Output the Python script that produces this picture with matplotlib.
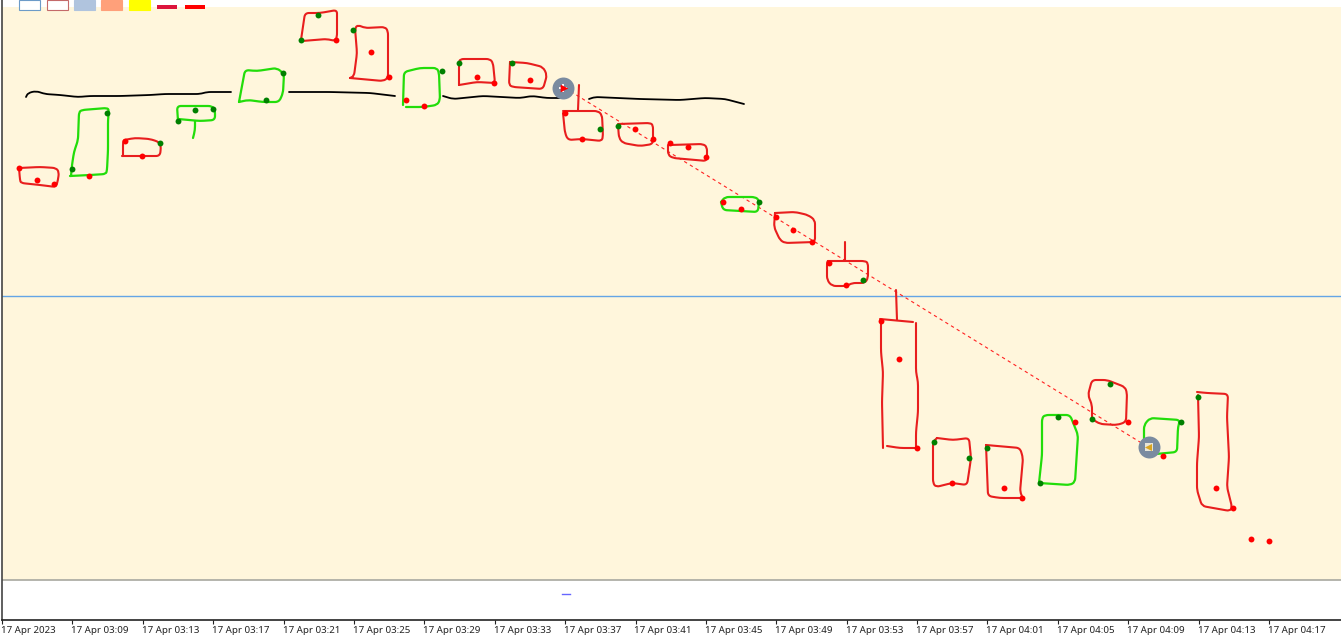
import matplotlib
matplotlib.use('Agg')
from matplotlib import pyplot as plt
from matplotlib.patches import PathPatch
from matplotlib.path import Path
from matplotlib.transforms import ScaledTranslation

# axis units are screen units of the trading chart, so y grows downwards
tick_x = [2, 72.4, 142.8, 213.2, 283.6, 354, 424.3, 494.7, 565.1, 635.5, 705.9, 776.3, 846.7, 917,
	987.4, 1057.8, 1128.2, 1198.6, 1269]
tick_labels = ['17 Apr 2023', '17 Apr 03:09', '17 Apr 03:13', '17 Apr 03:17', '17 Apr 03:21', '17 Apr 03:25',
	'17 Apr 03:29', '17 Apr 03:33', '17 Apr 03:37', '17 Apr 03:41', '17 Apr 03:45', '17 Apr 03:49',
	'17 Apr 03:53', '17 Apr 03:57', '17 Apr 04:01', '17 Apr 04:05', '17 Apr 04:09', '17 Apr 04:13', '17 Apr 04:17']

# one dot per minute
red_dots_x = [19, 37, 54, 89, 125, 142, 336, 371, 389, 406, 424, 477, 494, 530, 565, 582, 635, 653, 670, 688,
	706, 723, 741, 776, 793, 812, 829, 846, 881, 899, 917, 952, 1004, 1022, 1075, 1128, 1163, 1216, 1233, 1251, 1269]
red_dots_y = [168, 180, 184, 176, 141, 156, 40, 52, 77, 100, 106, 77, 83, 80, 113, 139, 129, 139, 143, 147,
	157, 202, 209, 217, 230, 242, 263, 285, 321, 359, 448, 483, 488, 498, 422, 422, 456, 488, 508, 539, 541]
green_dots_x = [72, 107, 160, 178, 195, 213, 266, 283, 301, 318, 353, 442, 459, 512, 600, 618, 759, 863,
	934, 969, 987, 1040, 1058, 1092, 1110, 1181, 1198]
green_dots_y = [169, 113, 143, 121, 110, 109, 100, 73, 40, 15, 30, 71, 63, 63, 129, 126, 202, 280,
	442, 458, 448, 483, 417, 419, 384, 422, 397]

# hand drawn boxes round the candles
red_sketches = [
	([19, 20, 21, 40, 56, 58, 59, 56, 40, 19], [168, 180, 183, 185, 187, 180, 172, 168, 167, 168]),
	([123, 123, 124, 135, 150, 159, 161, 160, 142, 122], [156, 142, 140, 138, 139, 142, 146, 156, 156, 156]),
	([301, 305, 320, 337, 337, 337, 335, 327, 302], [40, 13, 13, 10, 17, 37, 41, 39, 41]),
	([350, 354, 357, 355, 358, 365, 385, 388, 388, 383, 350], [78, 76, 53, 28, 25, 28, 27, 31, 78, 81, 78]),
	([459, 459, 460, 490, 493, 495, 477, 459], [85, 63, 59, 59, 63, 83, 82, 85]),
	([510, 509, 513, 543, 547, 543, 527, 510], [62, 85, 87, 89, 75, 67, 63, 62]),
	([563, 565, 568, 582, 602, 603, 602, 598, 563], [113, 133, 140, 139, 141, 135, 115, 111, 111]),
	([579, 578], [85, 110]),
	([618, 619, 623, 640, 653, 653, 650, 618], [125, 138, 143, 146, 144, 125, 123, 124]),
	([668, 668, 673, 707, 707, 703, 670], [145, 155, 158, 161, 147, 144, 145]),
	([775, 774, 780, 785, 815, 815, 808, 795, 775], [213, 227, 240, 243, 242, 220, 215, 212, 213]),
	([828, 827, 827, 832, 847, 852, 865, 868, 868, 865, 828], [261, 262, 280, 286, 286, 283, 283, 278, 263, 261, 261]),
	([845, 845], [242, 260]),
	([896, 897], [290, 320]),
	([880, 913], [319, 322]),
	([881, 881, 883, 882, 883], [320, 352, 372, 402, 448]),
	([887, 900, 917], [446, 448, 448]),
	([916, 916, 918, 918, 916, 916], [323, 372, 382, 412, 432, 448]),
	([937, 933, 933, 936, 952, 967, 969, 971, 969, 953, 937], [438, 442, 483, 487, 483, 485, 472, 458, 438, 440, 438]),
	([986, 988, 1000, 1023, 1020, 1023, 1020, 986], [445, 496, 498, 498, 492, 458, 448, 445]),
	([1092, 1092, 1088, 1092, 1107, 1125, 1127, 1126, 1117, 1100, 1092], [419, 405, 395, 380, 380, 387, 393, 422, 425, 424, 419]),
	([1197, 1207, 1228, 1227, 1229, 1227, 1232, 1230, 1202, 1197, 1197, 1199, 1198],
		[392, 393, 394, 417, 457, 487, 507, 511, 506, 490, 463, 437, 395]),
]
green_sketches = [
	([71, 72, 74, 78, 79, 82, 107, 109, 108, 108, 107, 106, 90, 70], [176, 165, 152, 140, 112, 110, 108, 110, 120, 150, 170, 174, 175, 176]),
	([178, 177, 200, 212, 215, 215, 200, 178], [121, 106, 106, 106, 110, 120, 121, 119]),
	([195, 195, 193], [121, 130, 138]),
	([239, 245, 257, 277, 284, 283, 279, 263, 248, 239], [102, 70, 71, 68, 74, 93, 102, 102, 100, 102]),
	([403, 404, 420, 437, 439, 440, 437, 423, 406], [105, 72, 68, 68, 73, 100, 105, 107, 107]),
	([721, 723, 758, 759, 755, 725, 721], [202, 210, 212, 200, 197, 197, 202]),
	([1039, 1042, 1042, 1045, 1070, 1078, 1075, 1070, 1039], [483, 455, 418, 415, 415, 435, 482, 485, 483]),
	([1144, 1144, 1150, 1180, 1178, 1177, 1145], [453, 425, 418, 420, 427, 452, 455]),
]
black_sketches = [
	([26, 28, 36, 45, 60, 78, 90, 120, 150, 165, 200, 207, 231], [97, 93, 91, 94, 95, 97, 96, 96, 95, 94, 94, 92, 92]),
	([289, 330, 370, 395], [92, 92, 93, 96]),
	([443, 453, 483, 520, 532, 547, 560], [96, 99, 96, 98, 96, 98, 98]),
	([589, 595, 640, 680, 705, 725, 744], [99, 97, 99, 100, 98, 99, 104]),
]

trend_x = [565, 1148]
trend_y = [88, 447]
level_y = 296
swatch_x = [19, 47, 74, 101, 129]
swatch_fill = ['white', 'white', '#B0C4DE', '#FFA07A', '#FFFF00']
swatch_edge = ['#6C9BC8', '#C46A6A', '#B0C4DE', '#FFA07A', '#FFFF00']
dash_x = [157, 185]
dash_colors = ['#DC143C', '#FF0000']


# draws a stroke with its corners rounded off, the way a pen goes round them
def draw_sketch(ax, xs, ys, color, lw, r=4):
	verts = [(xs[0], ys[0])]
	codes = [Path.MOVETO]
	for i in range(1, len(xs) - 1):
		for j in (i - 1, i + 1):
			dx = xs[j] - xs[i]
			dy = ys[j] - ys[i]
			d = max((dx * dx + dy * dy) ** 0.5, 1)
			c = min(r, d / 2)
			p = (xs[i] + dx / d * c, ys[i] + dy / d * c)
			if j < i:
				verts.append(p)
				codes.append(Path.LINETO)
				verts.append((xs[i], ys[i]))
				codes.append(Path.CURVE3)
			else:
				verts.append(p)
				codes.append(Path.CURVE3)
	verts.append((xs[-1], ys[-1]))
	codes.append(Path.LINETO)
	ax.add_patch(PathPatch(Path(verts, codes), fill=False, edgecolor=color, lw=lw, capstyle='round', joinstyle='round', zorder=2))


fig = plt.figure(figsize=(13.41, 6.37), dpi=100)
ax = fig.add_axes([2/1341, 17/637, 1339/1341, 620/637])
ax.set_xlim(2, 1341)
ax.set_ylim(620, 0)
ax.axhspan(6.5, 579.5, color='#FFF6DC', lw=0, zorder=0)
ax.axhline(580, color='#A8A8A0', lw=1.2, zorder=1)
ax.axhline(level_y, color='#64A5E6', lw=1.0, zorder=1)

ax.bar(swatch_x, 9.5, width=21, bottom=0, align='edge', color=swatch_fill, edgecolor=swatch_edge, lw=0.8, zorder=3)
ax.bar(dash_x, 4, width=20, bottom=5, align='edge', color=dash_colors, lw=0, zorder=3)

ax.plot(trend_x, trend_y, color='#FF2020', lw=0.8, ls=(0, (3, 3)), zorder=2)
for x, y in black_sketches:
	draw_sketch(ax, x, y, 'black', 1.3)
for x, y in red_sketches:
	draw_sketch(ax, x, y, '#E81E1E', 1.5)
for x, y in green_sketches:
	draw_sketch(ax, x, y, '#22DD0A', 1.6)

ax.scatter(red_dots_x, red_dots_y, s=18, color='#FF0000', lw=0, zorder=4)
ax.scatter(green_dots_x, green_dots_y, s=18, color='#008000', lw=0, zorder=4)

# grey round markers at both ends of the trend line
ax.scatter(trend_x[0] - 2, trend_y[0], s=250, color='#7A8BA0', lw=0, zorder=5)
ax.scatter(trend_x[1] + 1, trend_y[1], s=250, color='#7A8BA0', lw=0, zorder=5)
ax.scatter(trend_x[0] - 2, trend_y[0], s=40, color='#FFF5F5', marker='P', lw=0, zorder=6)
ax.scatter(trend_x[0] - 1, trend_y[0], s=30, color='#FF0000', marker='>', lw=0, zorder=7)
ax.scatter(trend_x[1] + 1, trend_y[1], s=28, color='#E8E6D8', marker='s', lw=0, zorder=6)
ax.scatter(trend_x[1], trend_y[1], s=26, color='#DAA520', marker='<', lw=0, zorder=7)

# indicator stub in the lower pane
ax.plot([562, 570], [594, 594], color='#6666FF', lw=1.0, zorder=2)

for side in ['top', 'right']:
	ax.spines[side].set_visible(False)
ax.spines['left'].set_color('#444444')
ax.spines['left'].set_linewidth(1.2)
ax.spines['bottom'].set_color('#222222')
ax.spines['bottom'].set_linewidth(1.2)
ax.set_yticks([])
ax.set_xticks(tick_x)
ax.set_xticklabels(tick_labels, family='Noto Sans', fontsize=7, color='#222222')
ax.tick_params(axis='x', length=3, width=0.8, pad=1.5, color='#222222')
for label in ax.get_xticklabels():
	label.set_ha('left')
	label.set_transform(label.get_transform() + ScaledTranslation(-1/100, 0, fig.dpi_scale_trans))

fig.savefig('out.png', dpi=100)
